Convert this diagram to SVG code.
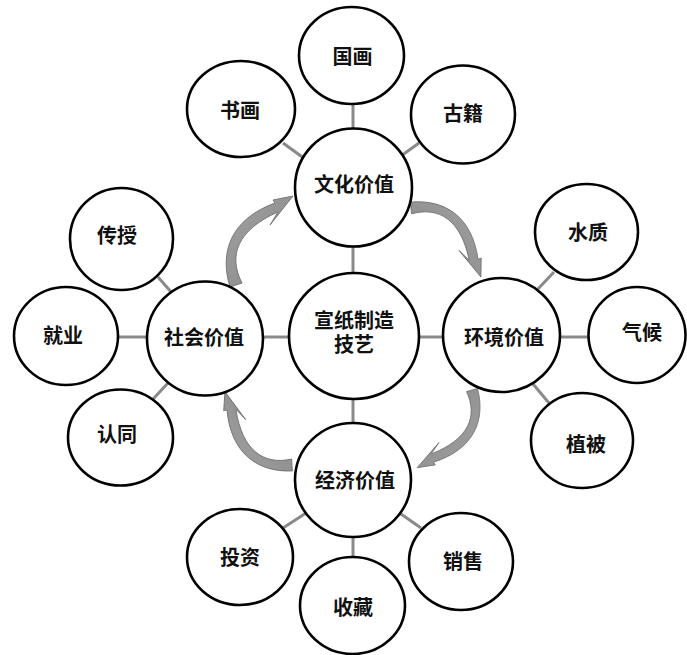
<svg xmlns="http://www.w3.org/2000/svg" width="687" height="655" viewBox="0 0 687 655">
<style>
.node ellipse{fill:#fff;stroke:#000;stroke-width:2.6}
.node text{font-family:"Noto Sans CJK SC","Noto Sans",sans-serif;font-size:20px;font-weight:700;fill:#111;text-anchor:middle}
.conn line{stroke:#8a8a8a;stroke-width:3}
.arr{fill:url(#ag);stroke:#707070;stroke-width:0.9}
</style>
<defs>
<linearGradient id="ag" x1="0" y1="0" x2="1" y2="1">
<stop offset="0" stop-color="#a2a2a2"/>
<stop offset="1" stop-color="#858585"/>
</linearGradient>
<path id="arrow" d="M230,287 C219,252 231,219 275,203 L273,200 L293,196 L270,225 L278,212 C237,230 228,256 242,283 Z"/>
</defs>
<rect width="687" height="655" fill="#fff"/>
<g id="connectors" class="conn">
<line x1="353" y1="247" x2="353" y2="273"/>
<line x1="353" y1="399" x2="353" y2="423"/>
<line x1="264" y1="337" x2="289" y2="337"/>
<line x1="419" y1="337" x2="443" y2="337"/>
<line x1="353" y1="104" x2="353" y2="129"/>
<line x1="283" y1="143" x2="305" y2="159"/>
<line x1="401" y1="156" x2="419" y2="143"/>
<line x1="158" y1="277" x2="172" y2="293"/>
<line x1="118" y1="337" x2="147" y2="337"/>
<line x1="153" y1="399" x2="169" y2="382"/>
<line x1="536" y1="291" x2="554" y2="272"/>
<line x1="560" y1="337" x2="589" y2="337"/>
<line x1="533" y1="384" x2="549" y2="403"/>
<line x1="283" y1="528" x2="306" y2="513"/>
<line x1="353" y1="537" x2="353" y2="557"/>
<line x1="401" y1="514" x2="421" y2="528"/>
</g>
<g id="arrows">
<use href="#arrow" class="arr"/>
<use href="#arrow" class="arr" transform="translate(411,208) rotate(102) scale(0.93) translate(-236,-285)"/>
<use href="#arrow" class="arr" transform="translate(472,390) rotate(182.6) scale(0.9) translate(-236,-285)"/>
<use href="#arrow" class="arr" transform="translate(292,465) rotate(-75.1) scale(0.94) translate(-236,-285)"/>
</g>
<g id="n-center" class="node"><ellipse cx="354" cy="336" rx="65" ry="63"/><text x="354" y="328">宣纸制造<tspan x="354" dy="24">技艺</tspan></text></g>
<g id="n-wenhua" class="node"><ellipse cx="353.5" cy="187.5" rx="58.5" ry="59"/><text x="354" y="192">文化价值</text></g>
<g id="n-shehui" class="node"><ellipse cx="205" cy="338.5" rx="58" ry="57"/><text x="204" y="345">社会价值</text></g>
<g id="n-huanjing" class="node"><ellipse cx="501.5" cy="335" rx="58.5" ry="57"/><text x="504" y="345">环境价值</text></g>
<g id="n-jingji" class="node"><ellipse cx="353" cy="480" rx="58" ry="57"/><text x="355" y="488">经济价值</text></g>
<g id="n-guohua" class="node"><ellipse cx="351.5" cy="55.5" rx="52.5" ry="48.5"/><text x="352.5" y="64">国画</text></g>
<g id="n-shuhua" class="node"><ellipse cx="241" cy="109" rx="54" ry="48"/><text x="240" y="118">书画</text></g>
<g id="n-guji" class="node"><ellipse cx="463" cy="114.5" rx="52" ry="49"/><text x="463" y="121">古籍</text></g>
<g id="n-chuanshou" class="node"><ellipse cx="121.5" cy="239" rx="51.5" ry="51"/><text x="117" y="243">传授</text></g>
<g id="n-jiuye" class="node"><ellipse cx="66" cy="336" rx="52" ry="49"/><text x="63" y="343">就业</text></g>
<g id="n-rentong" class="node"><ellipse cx="120.5" cy="437.5" rx="52.5" ry="48"/><text x="117" y="442">认同</text></g>
<g id="n-shuizhi" class="node"><ellipse cx="586.5" cy="232" rx="51.5" ry="48"/><text x="588" y="240">水质</text></g>
<g id="n-qihou" class="node"><ellipse cx="637" cy="335" rx="48.5" ry="48"/><text x="642" y="340">气候</text></g>
<g id="n-zhibei" class="node"><ellipse cx="582" cy="440.5" rx="51" ry="47.5"/><text x="586" y="452">植被</text></g>
<g id="n-touzi" class="node"><ellipse cx="240" cy="557" rx="53" ry="48"/><text x="240" y="565">投资</text></g>
<g id="n-shoucang" class="node"><ellipse cx="352.5" cy="605.5" rx="52.5" ry="48.5"/><text x="353" y="615">收藏</text></g>
<g id="n-xiaoshou" class="node"><ellipse cx="461" cy="561.5" rx="52" ry="48.5"/><text x="463" y="569">销售</text></g>
</svg>
